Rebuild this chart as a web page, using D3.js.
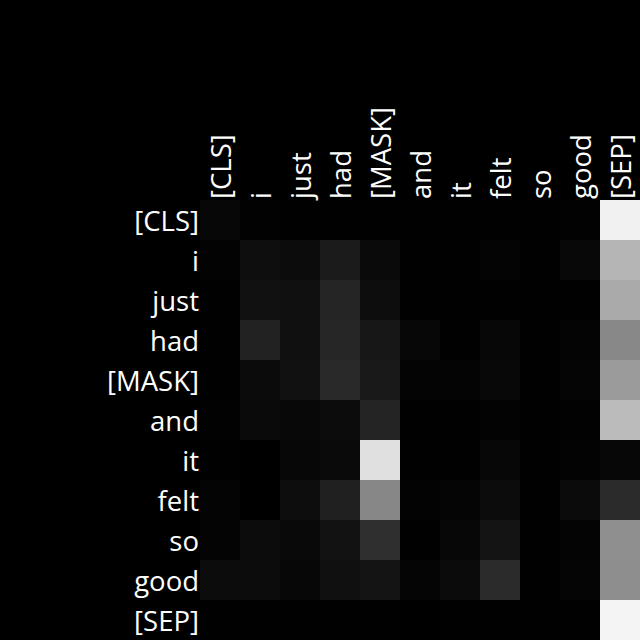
<!DOCTYPE html>
<html><head><meta charset="utf-8">
<script src="https://cdn.jsdelivr.net/npm/d3@7/dist/d3.min.js"></script>
<style>html,body{margin:0;padding:0;background:#000;}svg{display:block;}</style>
</head><body>
<script>
const tokens = ["[CLS]","i","just","had","[MASK]","and","it","felt","so","good","[SEP]"];
// attention weights (row = query token, column = key token)
const attention = [
  [0.024,0.008,0.004,0.004,0.004,0.004,0.004,0.004,0.004,0.008,0.941],
  [0.012,0.055,0.047,0.106,0.039,0.004,0.004,0.016,0.004,0.031,0.710],
  [0.004,0.067,0.063,0.145,0.051,0.004,0.004,0.004,0.004,0.004,0.667],
  [0.004,0.129,0.063,0.149,0.090,0.027,0.004,0.024,0.004,0.016,0.533],
  [0.004,0.043,0.067,0.161,0.094,0.016,0.016,0.031,0.004,0.020,0.608],
  [0.008,0.039,0.031,0.047,0.141,0.004,0.004,0.012,0.004,0.008,0.733],
  [0.004,0.000,0.027,0.039,0.878,0.004,0.004,0.024,0.004,0.012,0.027],
  [0.016,0.000,0.051,0.125,0.529,0.012,0.020,0.047,0.004,0.043,0.169],
  [0.016,0.047,0.035,0.071,0.184,0.004,0.024,0.078,0.004,0.016,0.561],
  [0.047,0.047,0.024,0.059,0.078,0.020,0.043,0.169,0.004,0.020,0.557],
  [0.004,0.004,0.004,0.004,0.004,0.000,0.004,0.004,0.004,0.004,0.957]
];

const W = 640, H = 640;
const svg = d3.select("body").append("svg").attr("width", W).attr("height", H);
svg.append("rect").attr("width", W).attr("height", H).attr("fill", "#000");

const x = d3.scaleBand().domain(tokens).range([200, 640]);
const y = d3.scaleBand().domain(tokens).range([200, 640]);
const color = d3.scaleLinear().domain([0, 1]).range(["#000000", "#ffffff"]);

const cells = [];
attention.forEach((row, i) => row.forEach((v, j) => cells.push({r: tokens[i], c: tokens[j], v})));

svg.append("g").selectAll("rect").data(cells).join("rect")
  .attr("x", d => x(d.c)).attr("y", d => y(d.r))
  .attr("width", x.bandwidth()).attr("height", y.bandwidth())
  .attr("fill", d => color(d.v));

const font = "'Open Sans', 'Noto Sans', sans-serif";
const fs = 27.5;
svg.append("g").selectAll("text").data(tokens).join("text")
  .attr("x", 199).attr("y", d => y(d) + y.bandwidth() / 2)
  .attr("text-anchor", "end").attr("dominant-baseline", "central")
  .attr("fill", "#fff").attr("font-family", font).attr("font-size", fs)
  .text(d => d);

svg.append("g").selectAll("text").data(tokens).join("text")
  .attr("transform", d => `translate(${x(d) + x.bandwidth() / 2},199) rotate(-90)`)
  .attr("text-anchor", "start").attr("dominant-baseline", "central")
  .attr("fill", "#fff").attr("font-family", font).attr("font-size", fs)
  .text(d => d);
</script>
</body></html>
